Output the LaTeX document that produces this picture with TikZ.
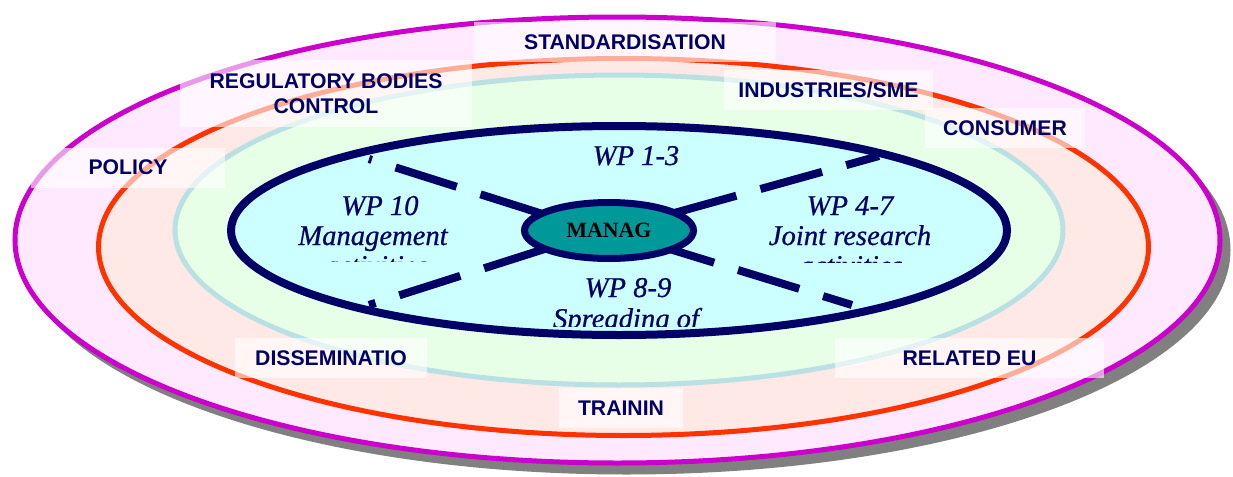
\documentclass[tikz,border=0pt]{standalone}
\usepackage{fontspec}
\setmainfont{Liberation Serif}
\setsansfont{Liberation Sans}
\newfontfamily\wpfont{Liberation Serif}[ItalicFeatures={FakeBold=0.7}]
\usetikzlibrary{shapes.geometric}
\definecolor{ringpurple}{HTML}{CC00CC}
\definecolor{ringpink}{HTML}{FFE9FF}
\definecolor{ringred}{HTML}{FF3300}
\definecolor{ringsalmon}{HTML}{FFE9E6}
\definecolor{ringblue}{HTML}{B9E0E3}
\definecolor{ringgreen}{HTML}{E6FFE6}
\definecolor{wpnavy}{HTML}{000066}
\definecolor{wpcyan}{HTML}{CCFFFF}
\definecolor{managteal}{HTML}{009999}
\definecolor{shadowgray}{HTML}{808080}

\begin{document}
\begin{tikzpicture}
[x=0.5pt,y=-0.5pt,
 ring/.style={line width=2.5pt},
 spoke/.style={wpnavy,line width=4pt,dash pattern=on 32pt off 12.5pt},
 wp/.style={anchor=base,text=wpnavy,inner sep=0pt,font=\wpfont\itshape\fontsize{14.3}{15}\selectfont},
 area/.style={fill=white,fill opacity=0.6,text opacity=1,text=wpnavy,inner sep=0pt,
   minimum height=20pt,align=center,font=\sffamily\bfseries\fontsize{10.6}{12.5}\selectfont}]
\clip (0,0) rectangle (1233,477);
% rings
\fill[shadowgray] (626.5,250) ellipse [x radius=604, y radius=224.5];
\draw[ring,ringpurple,fill=ringpink] (617.5,240) ellipse [x radius=602.5, y radius=223];
\draw[ring,ringred,fill=ringsalmon] (623.5,247) ellipse [x radius=525, y radius=188.5];
\draw[ring,ringblue,fill=ringgreen] (619,230) ellipse [x radius=444, y radius=155];
\draw[line width=4pt,wpnavy,fill=wpcyan] (619,230.5) ellipse [x radius=388, y radius=104.5];
% centre and spokes
\node[ellipse,draw=wpnavy,line width=3.5pt,fill=managteal,minimum width=84.5pt,minimum height=28pt,
  inner sep=0pt,outer sep=0pt,font=\bfseries\fontsize{10.9}{13}\selectfont] (manag) at (609,230.5) {MANAG};
\coordinate (ul) at (369,159);
\coordinate (ur) at (879,156);
\coordinate (ll) at (369,305);
\coordinate (lr) at (852,305);
\draw[spoke] (manag.166) -- (ul);
\draw[spoke] (manag.15) -- (ur);
\draw[spoke] (manag.196) -- (ll);
\draw[spoke,dash phase=9.5pt] (manag.343) -- (lr);
% work packages
\node[wp] (wp13) at (636,165) {WP 1-3};
\begin{scope}
\clip (270,180) rectangle (480,261);
\node[wp] (wp10) at (380,215) {WP 10};
\node[wp] (wp10b) at (373,245) {Management};
\node[wp] (wp10c) at (376,275) {activities};
\end{scope}
\begin{scope}
\clip (740,180) rectangle (960,262);
\node[wp] (wp47) at (850,215) {WP 4-7};
\node[wp] (wp47b) at (850,245) {Joint research};
\node[wp] (wp47c) at (851,275) {activities};
\end{scope}
\begin{scope}
\clip (520,270) rectangle (730,326);
\node[wp] (wp89) at (628,297) {WP 8-9};
\node[wp] (wp89b) at (626,328) {Spreading of};
\end{scope}
% surrounding areas
\node[area,minimum width=151pt] (standard) at (625,42) {STANDARDISATION};
\node[area,minimum width=146pt,minimum height=33.5pt] (regul) at (326,93.5) {REGULATORY BODIES\\CONTROL};
\node[area,minimum width=104.5pt] (industry) at (828.5,90) {INDUSTRIES/SME};
\node[area,minimum width=80pt] (consumer) at (1005,128) {CONSUMER};
\node[area,minimum width=97pt] (policy) at (128,167.5) {POLICY};
\node[area,minimum width=96pt] (dissem) at (331,358) {DISSEMINATIO};
\node[area,minimum width=62pt] (training) at (621,408) {TRAININ};
\node[area,minimum width=134.5pt] (relatedeu) at (969.5,358) {RELATED EU};
\end{tikzpicture}
\end{document}
